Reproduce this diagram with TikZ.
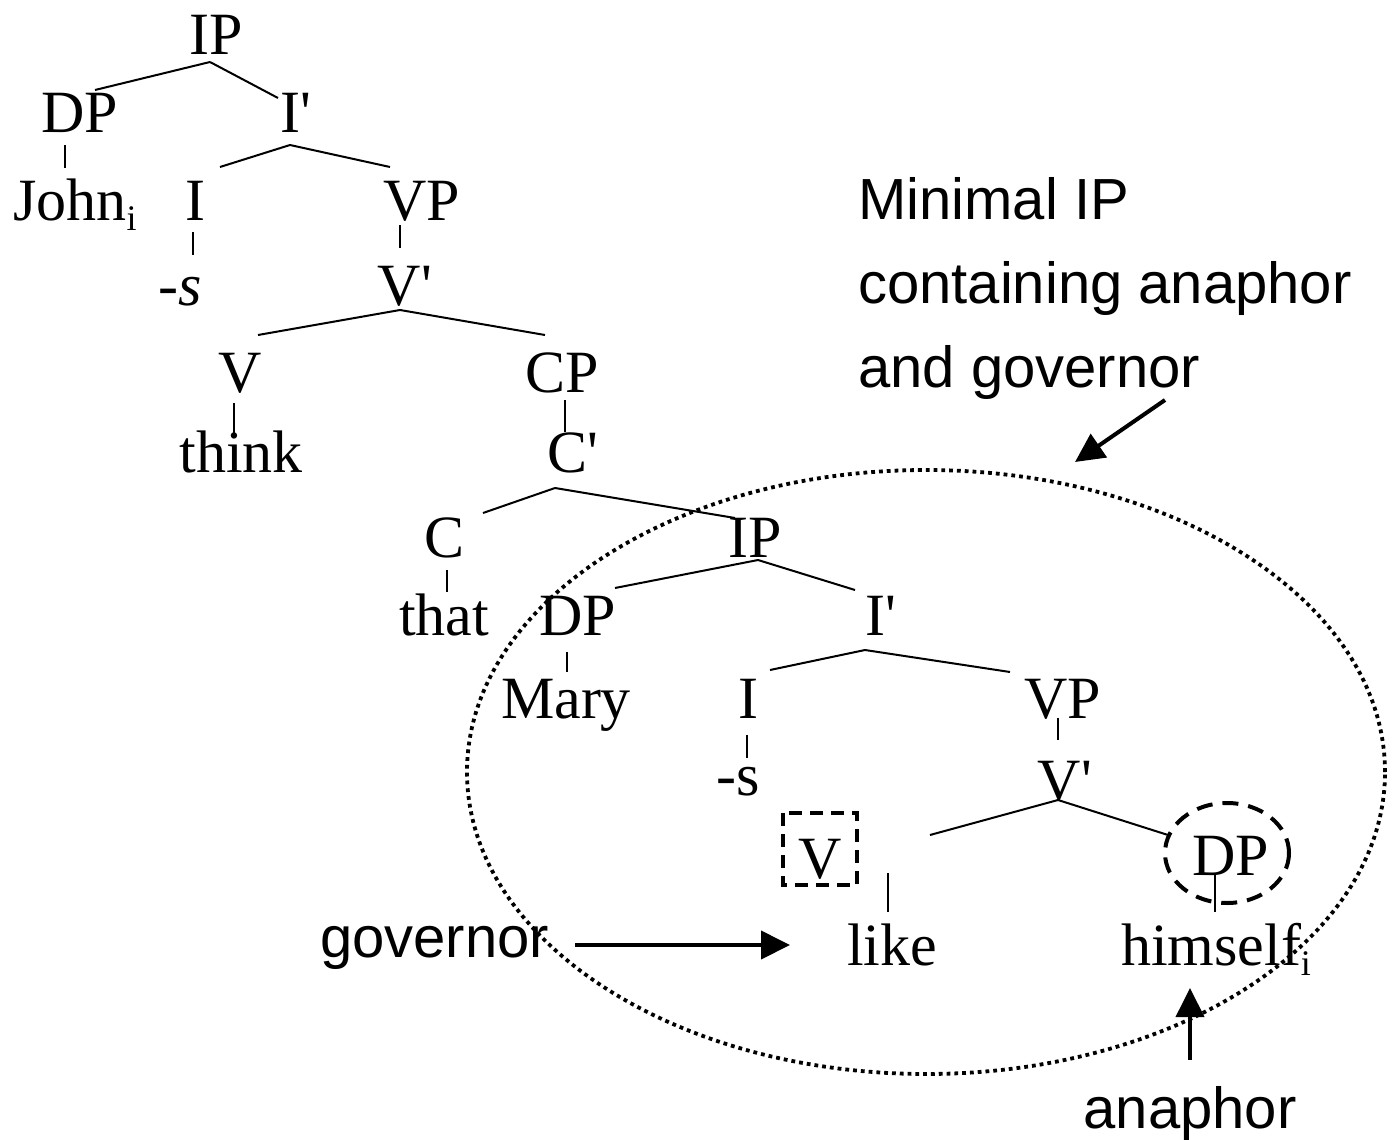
\documentclass[tikz,border=0pt]{standalone}
\usepackage{fontspec}
\setmainfont{Liberation Serif}
\newfontfamily\labelsans{Liberation Sans}
\usetikzlibrary{arrows.meta,shapes.geometric}
\newcommand{\treefont}{\fontsize{60}{70}\selectfont}
\newcommand{\labfont}{\labelsans\fontsize{58}{66}\selectfont}
\newcommand{\idx}{\raisebox{-10pt}{\fontsize{36}{36}\selectfont i}}
\newcommand{\prm}{\textquotesingle}
\begin{document}
\begin{tikzpicture}[x=1pt,y=-1pt,
  tn/.style={inner sep=0pt, anchor=base, font=\treefont},
  lab/.style={inner sep=0pt, anchor=base west, font=\labfont},
  edge/.style={line width=2pt},
  bigarrow/.style={line width=4pt, -{Triangle[length=29pt,width=28pt]}},
  dotring/.style={draw, ellipse, line width=3.8pt, dash pattern=on 3.8pt off 4pt, inner sep=0pt},
  dashbox/.style={line width=4pt, dash pattern=on 13pt off 8pt},
  dashring/.style={line width=4pt, dash pattern=on 16pt off 10pt},
]
\useasboundingbox (0,0) rectangle (1395,1140);

% big dotted ellipse
\node[dotring, minimum width=918pt, minimum height=604pt] (mip) at (926,772) {};

% tree nodes
\node[tn] (ip1) at (216,55) {IP};
\node[tn] (dp1) at (80,132) {DP};
\node[tn] (ib1) at (296,132) {I\prm};
\node[tn] (john) at (75,220) {John\idx};
\node[tn] (i1) at (195,220) {I};
\node[tn] (vp1) at (422,220) {VP};
\node[tn] (s1) at (180,305) {-\textit{s}};
\node[tn] (vb1) at (405,305) {V\prm};
\node[tn] (v1) at (240,392) {V};
\node[tn] (cp1) at (562,392) {CP};
\node[tn] (think) at (241,472) {think};
\node[tn] (cb) at (573,472) {C\prm};
\node[tn] (c) at (445,557) {C};
\node[tn] (ip2) at (755,557) {IP};
\node[tn] (that) at (444,635) {that};
\node[tn] (dp2) at (578,635) {DP};
\node[tn] (ib2) at (881,635) {I\prm};
\node[tn] (mary) at (566,718) {Mary};
\node[tn] (i2) at (748,718) {I};
\node[tn] (vp2) at (1063,718) {VP};
\node[tn] (s2) at (738,795) {-s};
\node[tn] (vb2) at (1065,800) {V\prm};
\node[tn] (v2) at (820,878) {V};
\node[tn] (dp3) at (1231,875) {DP};
\node[tn] (like) at (892,965) {like};
\node[tn] (himself) at (1216,965) {himself\idx};

% tree edges
\draw[edge] ([shift={(-6,7)}]ip1.base) -- ([shift={(15,-42)}]dp1.base);
\draw[edge] ([shift={(-6,7)}]ip1.base) -- ([shift={(-18,-34)}]ib1.base);
\draw[edge] ([shift={(-15,13)}]dp1.base) -- ([shift={(-10,-52)}]john.base);
\draw[edge] ([shift={(-6,13)}]ib1.base) -- ([shift={(25,-53)}]i1.base);
\draw[edge] ([shift={(-6,13)}]ib1.base) -- ([shift={(-32,-53)}]vp1.base);
\draw[edge] ([shift={(-2,12)}]i1.base) -- ([shift={(13,-50)}]s1.base);
\draw[edge] ([shift={(-22,5)}]vp1.base) -- ([shift={(-5,-57)}]vb1.base);
\draw[edge] ([shift={(-5,5)}]vb1.base) -- ([shift={(18,-57)}]v1.base);
\draw[edge] ([shift={(-5,5)}]vb1.base) -- ([shift={(-17,-57)}]cp1.base);
\draw[edge] ([shift={(-6,11)}]v1.base) -- ([shift={(-7,-37)}]think.base);
\draw[edge] ([shift={(3,8)}]cp1.base) -- ([shift={(-8,-40)}]cb.base);
\draw[edge] ([shift={(-18,16)}]cb.base) -- ([shift={(38,-44)}]c.base);
\draw[edge] ([shift={(-18,16)}]cb.base) -- ([shift={(-20,-39)}]ip2.base);
\draw[edge] ([shift={(2,13)}]c.base) -- ([shift={(3,-43)}]that.base);
\draw[edge] ([shift={(3,3)}]ip2.base) -- ([shift={(37,-47)}]dp2.base);
\draw[edge] ([shift={(3,3)}]ip2.base) -- ([shift={(-26,-45)}]ib2.base);
\draw[edge] ([shift={(-11,17)}]dp2.base) -- ([shift={(1,-46)}]mary.base);
\draw[edge] ([shift={(-16,15)}]ib2.base) -- ([shift={(22,-48)}]i2.base);
\draw[edge] ([shift={(-16,15)}]ib2.base) -- ([shift={(-53,-46)}]vp2.base);
\draw[edge] ([shift={(-1,17)}]i2.base) -- ([shift={(9,-37)}]s2.base);
\draw[edge] ([shift={(-5,0)}]vp2.base) -- ([shift={(-7,-60)}]vb2.base);
\draw[edge] ([shift={(-7,0)}]vb2.base) -- ([shift={(110,-43)}]v2.base);
\draw[edge] ([shift={(-7,0)}]vb2.base) -- ([shift={(-63,-40)}]dp3.base);
\draw[edge] ([shift={(68,-5)}]v2.base) -- ([shift={(-4,-53)}]like.base);
\draw[edge] ([shift={(-16,0)}]dp3.base) -- ([shift={(-1,-53)}]himself.base);

% dashed highlights
\draw[dashbox] ([shift={(-37,-65)}]v2.base) rectangle ([shift={(37,7)}]v2.base);
\draw[dashring] ([shift={(-4,-22)}]dp3.base) ellipse [x radius=62, y radius=50];

% labels
\node[lab] (min1) at (858,219) {Minimal IP};
\node[lab] (min2) at (858,303) {containing anaphor};
\node[lab] (min3) at (858,387) {and governor};
\node[lab] (gov) at (320,957) {governor};
\node[lab, anchor=base] (ana) at (1190,1128) {anaphor};
\node[lab, anchor=base west, font=\labelsans\bfseries\fontsize{57}{66}\selectfont] (ttl) at (652,-26) {y};

% arrows
\coordinate (mipTip) at (1075,462);
\coordinate (govTip) at (790,945);
\coordinate (anaTip) at (1190,988);
\draw[bigarrow] ([shift={(307,13)}]min3.base west) -- (mipTip);
\draw[bigarrow] ([shift={(255,-12)}]gov.base west) -- (govTip);
\draw[bigarrow] ([shift={(0,-68)}]ana.base) -- (anaTip);
\end{tikzpicture}
\end{document}
